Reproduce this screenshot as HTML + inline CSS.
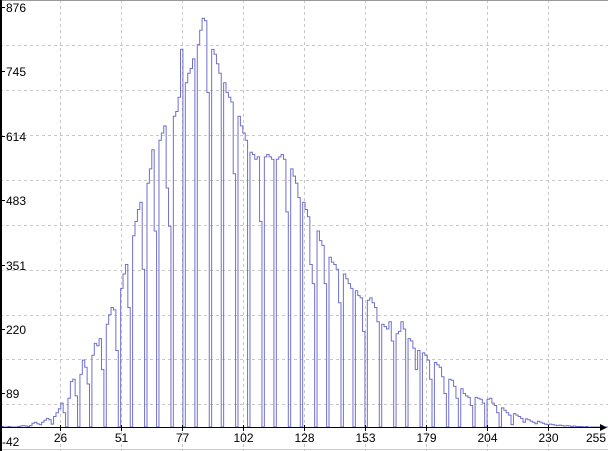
<!DOCTYPE html>
<html><head><meta charset="utf-8"><style>
body{margin:0;background:#fff;}
svg{display:block;font-family:"Liberation Sans",sans-serif;font-size:12px;}
</style></head><body>
<svg id="chart" width="608" height="451">
<g id="grid"></g>
<g id="series"></g>
<g id="axes"></g>
</svg>
<script>
const values=[2,1,0,0,1,0,0,0,1,2,
3,2,1,3,8,10,7,5,10,14,
18,15,6,22,30,38,50,30,0,60,
95,100,65,0,110,140,125,90,0,150,
175,170,185,120,0,215,235,250,245,160,
0,290,320,340,250,0,400,430,455,470,
330,0,510,540,580,410,0,600,615,630,
500,420,0,650,660,690,790,0,720,740,
750,770,0,800,830,855,850,700,0,790,
780,760,740,0,720,700,690,680,530,0,
650,630,615,600,0,575,570,560,565,430,
0,565,570,565,560,0,560,565,570,560,
450,0,540,525,510,480,0,470,455,440,
340,300,0,410,390,380,300,0,355,345,
340,330,260,0,320,310,300,290,0,285,
275,270,200,0,265,270,260,250,220,0,
215,210,205,220,180,0,195,200,220,205,
0,185,180,165,120,160,0,155,150,140,
100,0,135,130,125,105,70,0,100,98,
85,60,0,80,70,65,62,45,0,62,
60,58,50,0,58,60,50,45,30,0,
40,35,30,25,5,28,25,22,18,10,
17,15,12,10,7,12,10,8,6,5,
6,5,4,3,4,3,2,3,2,1,
2,1,1,1,0,1,0,0,0,0,
0,0,0,0,0,0];
const xTicks=[25.5,51,76.5,102,127.5,153,178.5,204,229.5,255];
const xTickLabels=["26","51","77","102","128","153","179","204","230","255"];
const yTickValues=[876,745,614,483,351,220,89];
const yGridPx=[45,90,135,180,225,270,315,359,404];
const NS="http://www.w3.org/2000/svg";
function xs(i){return -1.5+i*2.395;}
function ys(v){return 427-v*0.478;}
function yl(v){return 7+(876-v)*0.4905;}
function mk(tag,attrs,parent){const e=document.createElementNS(NS,tag);for(const k in attrs)e.setAttribute(k,attrs[k]);parent.appendChild(e);return e;}
const grid=document.getElementById('grid'),series=document.getElementById('series'),axes=document.getElementById('axes');
yGridPx.forEach(y=>{const l=mk('line',{x1:0,x2:608,y1:y+0.5,y2:y+0.5,stroke:'#c8c8c8','stroke-dasharray':'3,3'},grid);

});
xTicks.forEach(t=>{const x=Math.round(xs(t))+0.5;const l=mk('line',{x1:x,x2:x,y1:0,y2:451,stroke:'#c8c8c8','stroke-dasharray':'3,3'},grid);

});
let d='M'+xs(0)+','+ys(values[0]);
values.forEach((v,i)=>{d+=' L'+xs(i)+','+ys(v).toFixed(1)+' L'+xs(i+1)+','+ys(v).toFixed(1);});
const p=mk('path',{d:d,fill:'none',stroke:'#7070cc','stroke-width':1},series);


mk('line',{x1:0,x2:608,y1:0.5,y2:0.5,stroke:'#999'},axes);
mk('line',{x1:0,x2:608,y1:449.5,y2:449.5,stroke:'#ccc'},axes);
const ya=mk('line',{x1:1,x2:1,y1:0,y2:451,stroke:'#000','stroke-width':2},axes);


const xa=mk('line',{x1:0,x2:604,y1:427.5,y2:427.5,stroke:'#000'},axes);


mk('path',{d:'M600,424 L607,427.5 L600,431 Z',fill:'#000'},axes);
xTicks.forEach((t,k)=>{const x=Math.round(xs(t))+0.5;
mk('line',{x1:x,x2:x,y1:425,y2:431,stroke:'#000'},axes);
const tx=mk('text',{x:k===xTicks.length-1?606:x,y:442,'text-anchor':k===xTicks.length-1?'end':'middle',fill:'#000'},axes);
tx.textContent=xTickLabels[k];

});
yTickValues.forEach(v=>{const y=Math.round(yl(v));
mk('line',{x1:1,x2:5,y1:y+0.5,y2:y+0.5,stroke:'#000'},axes);
const tx=mk('text',{x:6,y:y+5,fill:'#000'},axes);
tx.textContent=String(v);

});
const m=mk('text',{x:2,y:446,fill:'#000'},axes);
m.textContent='-42';


</script>
</body></html>
